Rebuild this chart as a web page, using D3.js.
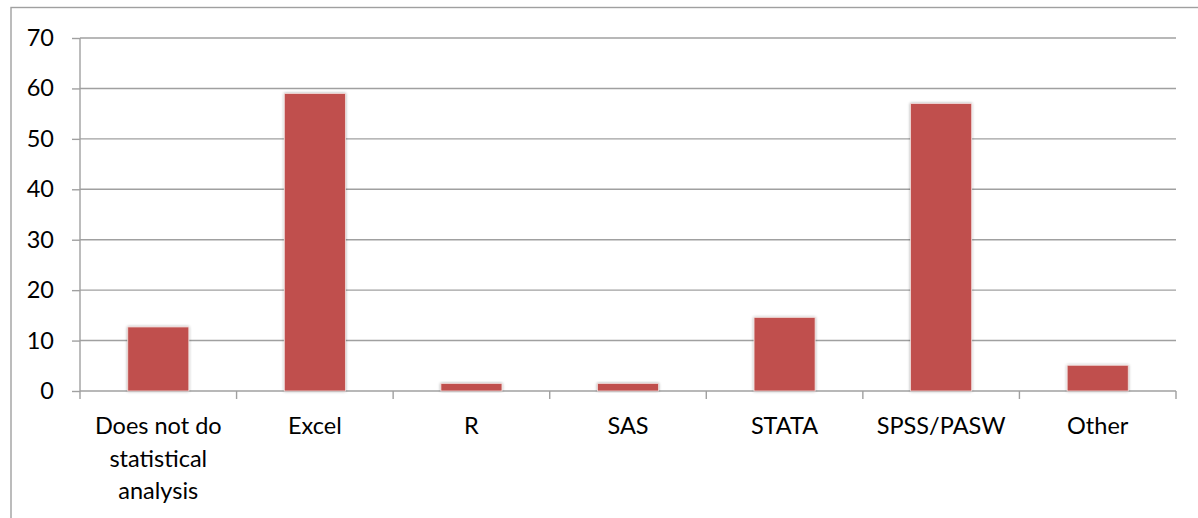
<!DOCTYPE html>
<html>
<head>
<meta charset="utf-8">
<script src="https://cdnjs.cloudflare.com/ajax/libs/d3/7.8.5/d3.min.js"></script>
<style>
  body { margin: 0; background: #fff; }
  svg { display: block; font-family: Lato, "Open Sans", sans-serif; }
</style>
</head>
<body>
<div id="chart"></div>
<script>
var categories = ['Does not do statistical analysis', 'Excel', 'R', 'SAS', 'STATA', 'SPSS/PASW', 'Other'],
    labelLines = [['Does not do', 'statistical', 'analysis'], ['Excel'], ['R'], ['SAS'], ['STATA'], ['SPSS/PASW'], ['Other']],
    values = [12.7, 59, 1.5, 1.5, 14.6, 57, 5.1],
    yTicks = [0, 10, 20, 30, 40, 50, 60, 70];

var width = 1198,
    height = 518,
    margin = {top: 38, right: 22, bottom: 127, left: 80},
    gridColor = '#a0a0a0',
    barColor = '#C0504D',
    fontSize = '23.5px';

var svg = d3.select('#chart').append('svg')
    .attr('width', width)
    .attr('height', height);

// soft shadow behind the bars, like the office chart style
var defs = svg.append('defs');
var shadow = defs.append('filter').attr('id', 'shadow')
    .attr('x', '-20%').attr('y', '-20%').attr('width', '140%').attr('height', '140%');
shadow.append('feGaussianBlur').attr('in', 'SourceAlpha').attr('stdDeviation', 1.5).attr('result', 'blur');
shadow.append('feComponentTransfer').attr('in', 'blur').attr('result', 'soft')
    .append('feFuncA').attr('type', 'linear').attr('slope', 0.35);
var merge = shadow.append('feMerge');
merge.append('feMergeNode').attr('in', 'soft');
merge.append('feMergeNode').attr('in', 'SourceGraphic');

// outer chart frame (runs off the right and bottom of the picture)
svg.append('rect')
    .attr('x', 11).attr('y', 7.5)
    .attr('width', 1300).attr('height', 600)
    .attr('fill', 'none')
    .attr('stroke', gridColor)
    .attr('stroke-width', 1.4);

var plotW = width - margin.left - margin.right,
    plotH = height - margin.top - margin.bottom;

var x = d3.scaleBand().domain(categories).range([0, plotW]).padding(0);
var y = d3.scaleLinear().domain([0, 70]).range([plotH, 0]);

var g = svg.append('g').attr('transform', 'translate(' + margin.left + ',' + margin.top + ')');

// gridlines
g.append('g')
    .selectAll('line')
    .data(yTicks.filter(function(d) { return d > 0; }))
    .join('line')
    .attr('x1', 0).attr('x2', plotW)
    .attr('y1', function(d) { return y(d); })
    .attr('y2', function(d) { return y(d); })
    .attr('stroke', gridColor)
    .attr('stroke-width', 1.4);

// y axis
var yAxis = g.append('g')
    .call(d3.axisLeft(y).tickValues(yTicks).tickSize(8).tickPadding(18));
yAxis.selectAll('line, path').attr('stroke', gridColor).attr('stroke-width', 1.4);
yAxis.select('.domain').attr('d', 'M0,' + plotH + 'V0');
yAxis.selectAll('text')
    .attr('fill', '#000')
    .style('font-size', fontSize)
    .style('font-family', 'Lato, "Open Sans", sans-serif');

// x axis with ticks on the category boundaries
var xAxis = g.append('g').attr('transform', 'translate(0,' + plotH + ')');
xAxis.append('line')
    .attr('x1', 0).attr('x2', plotW)
    .attr('stroke', gridColor).attr('stroke-width', 1.4);
var bounds = categories.map(function(c) { return x(c); }).concat([plotW]);
xAxis.selectAll('line.tick')
    .data(bounds)
    .join('line')
    .attr('class', 'tick')
    .attr('x1', function(d) { return d; })
    .attr('x2', function(d) { return d; })
    .attr('y1', 0).attr('y2', 8)
    .attr('stroke', gridColor).attr('stroke-width', 1.4);

var labels = xAxis.selectAll('text.cat')
    .data(categories)
    .join('text')
    .attr('class', 'cat')
    .attr('text-anchor', 'middle')
    .attr('fill', '#000')
    .style('font-size', fontSize);
labels.each(function(c, i) {
  var t = d3.select(this);
  labelLines[i].forEach(function(line, j) {
    t.append('tspan')
      .attr('x', x(c) + x.bandwidth() / 2)
      .attr('y', 43 + j * 32.5)
      .text(line);
  });
});

// bars
var barW = x.bandwidth() * 0.39;
g.append('g')
    .selectAll('rect')
    .data(values)
    .join('rect')
    .attr('x', function(d, i) { return x(categories[i]) + (x.bandwidth() - barW) / 2; })
    .attr('y', function(d) { return y(d); })
    .attr('width', barW)
    .attr('height', function(d) { return plotH - y(d); })
    .attr('fill', barColor)
    .attr('stroke', '#f2dcdb')
    .attr('stroke-width', 0.8)
    .attr('filter', 'url(#shadow)');
</script>
</body>
</html>
